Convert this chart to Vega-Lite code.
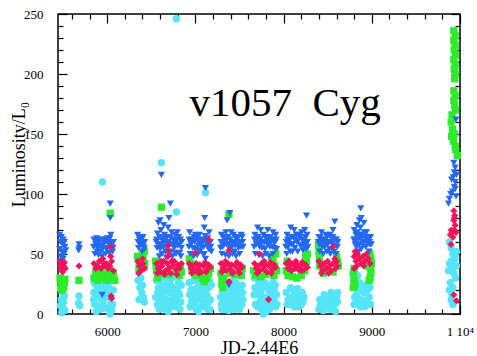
{
"$schema":"https://vega.github.io/schema/vega-lite/v6.json",
"width":402,"height":300,"autosize":"none",
"padding":{"left":58,"top":14,"right":17,"bottom":42},
"config":{"view":{"stroke":"black","strokeWidth":1.5},
"axis":{"domain":false,"grid":false,"tickColor":"black","tickWidth":1.2,"labelFont":"Liberation Serif","labelFontSize":13,"labelColor":"black","titleFont":"Liberation Serif","titleFontWeight":"normal","titleColor":"black"}},
"datasets":{
"lab":[{"jd":6932,"lum":165,"label":"v1057\u00a0\u00a0Cyg"}],
"pts":[
{"s":"c","jd":5470,"lum":21},{"s":"c","jd":5495,"lum":18},{"s":"c","jd":5515,"lum":15},{"s":"c","jd":5480,"lum":12},{"s":"c","jd":5505,"lum":10},{"s":"c","jd":5470,"lum":7},{"s":"c","jd":5500,"lum":5},{"s":"c","jd":5520,"lum":3},{"s":"c","jd":5485,"lum":1},
{"s":"c","jd":5680,"lum":15},{"s":"c","jd":5675,"lum":9},{"s":"c","jd":5688,"lum":7},
{"s":"c","jd":5850,"lum":18},{"s":"c","jd":5870,"lum":14},{"s":"c","jd":5890,"lum":20},{"s":"c","jd":5910,"lum":16},{"s":"c","jd":5930,"lum":12},{"s":"c","jd":5860,"lum":8},{"s":"c","jd":5900,"lum":6},{"s":"c","jd":5950,"lum":10},{"s":"c","jd":5970,"lum":22},{"s":"c","jd":5990,"lum":28},{"s":"c","jd":6000,"lum":34},{"s":"c","jd":6020,"lum":18},{"s":"c","jd":6040,"lum":14},{"s":"c","jd":6060,"lum":8},{"s":"c","jd":6050,"lum":3},{"s":"c","jd":6030,"lum":0},{"s":"c","jd":5980,"lum":5},{"s":"c","jd":6010,"lum":24},{"s":"c","jd":6070,"lum":20},{"s":"c","jd":5940,"lum":26},{"s":"c","jd":5880,"lum":24},{"s":"c","jd":5945,"lum":110},{"s":"c","jd":5855,"lum":26},{"s":"c","jd":5925,"lum":4},{"s":"c","jd":6065,"lum":28},{"s":"c","jd":5965,"lum":16},{"s":"c","jd":5845,"lum":12},{"s":"c","jd":5875,"lum":2},{"s":"c","jd":5915,"lum":22},{"s":"c","jd":5955,"lum":20},{"s":"c","jd":5995,"lum":14},{"s":"c","jd":6035,"lum":8},
{"s":"c","jd":6350,"lum":28},{"s":"c","jd":6370,"lum":22},{"s":"c","jd":6390,"lum":18},{"s":"c","jd":6410,"lum":14},{"s":"c","jd":6360,"lum":12},{"s":"c","jd":6400,"lum":24},{"s":"c","jd":6420,"lum":10},{"s":"c","jd":6380,"lum":30},
{"s":"c","jd":6560,"lum":28},{"s":"c","jd":6580,"lum":22},{"s":"c","jd":6600,"lum":16},{"s":"c","jd":6620,"lum":10},{"s":"c","jd":6640,"lum":6},{"s":"c","jd":6660,"lum":4},{"s":"c","jd":6680,"lum":12},{"s":"c","jd":6700,"lum":18},{"s":"c","jd":6720,"lum":24},{"s":"c","jd":6740,"lum":30},{"s":"c","jd":6760,"lum":20},{"s":"c","jd":6780,"lum":14},{"s":"c","jd":6800,"lum":8},{"s":"c","jd":6820,"lum":16},{"s":"c","jd":6840,"lum":24},{"s":"c","jd":6570,"lum":8},{"s":"c","jd":6590,"lum":4},{"s":"c","jd":6610,"lum":24},{"s":"c","jd":6650,"lum":20},{"s":"c","jd":6690,"lum":26},{"s":"c","jd":6730,"lum":10},{"s":"c","jd":6770,"lum":6},{"s":"c","jd":6810,"lum":26},{"s":"c","jd":6550,"lum":14},{"s":"c","jd":6630,"lum":30},{"s":"c","jd":6575,"lum":18},{"s":"c","jd":6625,"lum":16},{"s":"c","jd":6665,"lum":22},{"s":"c","jd":6710,"lum":6},{"s":"c","jd":6750,"lum":14},{"s":"c","jd":6795,"lum":20},{"s":"c","jd":6835,"lum":10},{"s":"c","jd":6690,"lum":2},{"s":"c","jd":6585,"lum":12},{"s":"c","jd":6635,"lum":24},{"s":"c","jd":6675,"lum":6},{"s":"c","jd":6705,"lum":28},{"s":"c","jd":6745,"lum":22},{"s":"c","jd":6765,"lum":12},{"s":"c","jd":6805,"lum":18},{"s":"c","jd":6825,"lum":4},{"s":"c","jd":6614,"lum":126},{"s":"c","jd":6784,"lum":85},{"s":"c","jd":6784,"lum":246},
{"s":"c","jd":6930,"lum":26},{"s":"c","jd":6950,"lum":20},{"s":"c","jd":6970,"lum":14},{"s":"c","jd":6990,"lum":8},{"s":"c","jd":7010,"lum":4},{"s":"c","jd":7030,"lum":12},{"s":"c","jd":7050,"lum":18},{"s":"c","jd":7070,"lum":24},{"s":"c","jd":7090,"lum":10},{"s":"c","jd":7110,"lum":6},{"s":"c","jd":7130,"lum":16},{"s":"c","jd":7150,"lum":22},{"s":"c","jd":7170,"lum":12},{"s":"c","jd":6940,"lum":6},{"s":"c","jd":6980,"lum":28},{"s":"c","jd":7020,"lum":22},{"s":"c","jd":7060,"lum":6},{"s":"c","jd":7100,"lum":28},{"s":"c","jd":7140,"lum":4},{"s":"c","jd":7180,"lum":24},{"s":"c","jd":6990,"lum":32},{"s":"c","jd":7050,"lum":33},{"s":"c","jd":6935,"lum":16},{"s":"c","jd":6975,"lum":20},{"s":"c","jd":7015,"lum":16},{"s":"c","jd":7075,"lum":14},{"s":"c","jd":7125,"lum":24},{"s":"c","jd":7165,"lum":4},{"s":"c","jd":7035,"lum":2},{"s":"c","jd":6955,"lum":10},{"s":"c","jd":6995,"lum":18},{"s":"c","jd":7045,"lum":26},{"s":"c","jd":7085,"lum":18},{"s":"c","jd":7115,"lum":20},{"s":"c","jd":7145,"lum":10},{"s":"c","jd":7160,"lum":28},{"s":"c","jd":7114,"lum":101},
{"s":"c","jd":7290,"lum":24},{"s":"c","jd":7310,"lum":18},{"s":"c","jd":7330,"lum":12},{"s":"c","jd":7350,"lum":6},{"s":"c","jd":7370,"lum":10},{"s":"c","jd":7390,"lum":16},{"s":"c","jd":7410,"lum":22},{"s":"c","jd":7430,"lum":28},{"s":"c","jd":7450,"lum":20},{"s":"c","jd":7470,"lum":14},{"s":"c","jd":7490,"lum":8},{"s":"c","jd":7510,"lum":18},{"s":"c","jd":7530,"lum":24},{"s":"c","jd":7300,"lum":4},{"s":"c","jd":7340,"lum":26},{"s":"c","jd":7380,"lum":3},{"s":"c","jd":7420,"lum":6},{"s":"c","jd":7460,"lum":26},{"s":"c","jd":7500,"lum":4},{"s":"c","jd":7540,"lum":12},{"s":"c","jd":7490,"lum":33},{"s":"c","jd":7285,"lum":14},{"s":"c","jd":7325,"lum":20},{"s":"c","jd":7365,"lum":22},{"s":"c","jd":7405,"lum":12},{"s":"c","jd":7445,"lum":4},{"s":"c","jd":7485,"lum":22},{"s":"c","jd":7525,"lum":8},{"s":"c","jd":7295,"lum":8},{"s":"c","jd":7335,"lum":4},{"s":"c","jd":7355,"lum":16},{"s":"c","jd":7425,"lum":16},{"s":"c","jd":7465,"lum":8},{"s":"c","jd":7505,"lum":12},{"s":"c","jd":7535,"lum":18},
{"s":"c","jd":7670,"lum":30},{"s":"c","jd":7690,"lum":22},{"s":"c","jd":7710,"lum":16},{"s":"c","jd":7730,"lum":10},{"s":"c","jd":7750,"lum":4},{"s":"c","jd":7770,"lum":0},{"s":"c","jd":7790,"lum":8},{"s":"c","jd":7810,"lum":14},{"s":"c","jd":7830,"lum":20},{"s":"c","jd":7850,"lum":24},{"s":"c","jd":7870,"lum":18},{"s":"c","jd":7890,"lum":12},{"s":"c","jd":7910,"lum":6},{"s":"c","jd":7680,"lum":8},{"s":"c","jd":7720,"lum":26},{"s":"c","jd":7760,"lum":22},{"s":"c","jd":7800,"lum":2},{"s":"c","jd":7840,"lum":4},{"s":"c","jd":7880,"lum":26},{"s":"c","jd":7920,"lum":16},{"s":"c","jd":7665,"lum":16},{"s":"c","jd":7705,"lum":6},{"s":"c","jd":7745,"lum":16},{"s":"c","jd":7785,"lum":26},{"s":"c","jd":7825,"lum":8},{"s":"c","jd":7865,"lum":10},{"s":"c","jd":7905,"lum":24},{"s":"c","jd":7675,"lum":22},{"s":"c","jd":7735,"lum":20},{"s":"c","jd":7775,"lum":12},{"s":"c","jd":7815,"lum":22},{"s":"c","jd":7855,"lum":14},{"s":"c","jd":7895,"lum":20},{"s":"c","jd":7925,"lum":8},
{"s":"c","jd":8030,"lum":18},{"s":"c","jd":8050,"lum":12},{"s":"c","jd":8070,"lum":8},{"s":"c","jd":8090,"lum":14},{"s":"c","jd":8110,"lum":20},{"s":"c","jd":8130,"lum":16},{"s":"c","jd":8150,"lum":10},{"s":"c","jd":8170,"lum":6},{"s":"c","jd":8190,"lum":12},{"s":"c","jd":8210,"lum":18},{"s":"c","jd":8230,"lum":14},{"s":"c","jd":8080,"lum":22},{"s":"c","jd":8160,"lum":21},{"s":"c","jd":8120,"lum":6},{"s":"c","jd":8200,"lum":8},{"s":"c","jd":8040,"lum":8},{"s":"c","jd":8100,"lum":10},{"s":"c","jd":8140,"lum":18},{"s":"c","jd":8180,"lum":14},{"s":"c","jd":8220,"lum":10},
{"s":"c","jd":8400,"lum":4},{"s":"c","jd":8420,"lum":8},{"s":"c","jd":8440,"lum":12},{"s":"c","jd":8460,"lum":16},{"s":"c","jd":8480,"lum":10},{"s":"c","jd":8500,"lum":6},{"s":"c","jd":8520,"lum":14},{"s":"c","jd":8540,"lum":18},{"s":"c","jd":8560,"lum":12},{"s":"c","jd":8580,"lum":8},{"s":"c","jd":8600,"lum":14},{"s":"c","jd":8615,"lum":18},{"s":"c","jd":8450,"lum":3},{"s":"c","jd":8530,"lum":4},{"s":"c","jd":8590,"lum":2},{"s":"c","jd":8410,"lum":12},{"s":"c","jd":8470,"lum":6},{"s":"c","jd":8510,"lum":10},{"s":"c","jd":8550,"lum":8},{"s":"c","jd":8610,"lum":10},
{"s":"c","jd":8790,"lum":28},{"s":"c","jd":8810,"lum":22},{"s":"c","jd":8830,"lum":16},{"s":"c","jd":8850,"lum":10},{"s":"c","jd":8870,"lum":6},{"s":"c","jd":8890,"lum":12},{"s":"c","jd":8910,"lum":18},{"s":"c","jd":8930,"lum":24},{"s":"c","jd":8950,"lum":20},{"s":"c","jd":8970,"lum":14},{"s":"c","jd":8985,"lum":8},{"s":"c","jd":8800,"lum":8},{"s":"c","jd":8860,"lum":26},{"s":"c","jd":8920,"lum":6},{"s":"c","jd":8980,"lum":22},{"s":"c","jd":8840,"lum":32},{"s":"c","jd":8805,"lum":14},{"s":"c","jd":8845,"lum":20},{"s":"c","jd":8885,"lum":24},{"s":"c","jd":8905,"lum":10},{"s":"c","jd":8945,"lum":12},{"s":"c","jd":8965,"lum":26},
{"s":"c","jd":9880,"lum":60},{"s":"c","jd":9900,"lum":55},{"s":"c","jd":9920,"lum":50},{"s":"c","jd":9940,"lum":46},{"s":"c","jd":9880,"lum":42},{"s":"c","jd":9910,"lum":38},{"s":"c","jd":9930,"lum":34},{"s":"c","jd":9950,"lum":30},{"s":"c","jd":9890,"lum":26},{"s":"c","jd":9920,"lum":22},{"s":"c","jd":9940,"lum":48},{"s":"c","jd":9900,"lum":44},{"s":"c","jd":9960,"lum":40},{"s":"c","jd":9880,"lum":20},{"s":"c","jd":9900,"lum":12},{"s":"c","jd":9920,"lum":8},{"s":"c","jd":9910,"lum":16},{"s":"c","jd":9870,"lum":36},{"s":"c","jd":9960,"lum":52},
{"s":"g","jd":5465,"lum":30},{"s":"g","jd":5490,"lum":28},{"s":"g","jd":5515,"lum":26},{"s":"g","jd":5475,"lum":24},{"s":"g","jd":5505,"lum":22},{"s":"g","jd":5485,"lum":20},{"s":"g","jd":5520,"lum":29},
{"s":"g","jd":5680,"lum":28},
{"s":"g","jd":5850,"lum":30},{"s":"g","jd":5870,"lum":34},{"s":"g","jd":5890,"lum":28},{"s":"g","jd":5910,"lum":36},{"s":"g","jd":5930,"lum":32},{"s":"g","jd":5950,"lum":30},{"s":"g","jd":5970,"lum":34},{"s":"g","jd":5990,"lum":28},{"s":"g","jd":6010,"lum":32},{"s":"g","jd":6030,"lum":36},{"s":"g","jd":6050,"lum":30},{"s":"g","jd":6070,"lum":34},{"s":"g","jd":6085,"lum":28},{"s":"g","jd":6034,"lum":84},{"s":"g","jd":5880,"lum":37},
{"s":"g","jd":6345,"lum":48},{"s":"g","jd":6365,"lum":44},{"s":"g","jd":6385,"lum":40},{"s":"g","jd":6405,"lum":46},{"s":"g","jd":6425,"lum":42},{"s":"g","jd":6360,"lum":38},{"s":"g","jd":6400,"lum":50},{"s":"g","jd":6420,"lum":52},
{"s":"g","jd":6550,"lum":44},{"s":"g","jd":6560,"lum":36},{"s":"g","jd":6570,"lum":30},{"s":"g","jd":6555,"lum":40},{"s":"g","jd":6830,"lum":40},{"s":"g","jd":6840,"lum":35},{"s":"g","jd":6820,"lum":32},{"s":"g","jd":6600,"lum":34},{"s":"g","jd":6700,"lum":33},{"s":"g","jd":6780,"lum":35},{"s":"g","jd":6614,"lum":89},
{"s":"g","jd":6930,"lum":46},{"s":"g","jd":6950,"lum":42},{"s":"g","jd":7010,"lum":32},{"s":"g","jd":7080,"lum":30},{"s":"g","jd":7100,"lum":27},{"s":"g","jd":7130,"lum":30},{"s":"g","jd":7150,"lum":34},{"s":"g","jd":7170,"lum":38},{"s":"g","jd":7050,"lum":34},{"s":"g","jd":6960,"lum":36},
{"s":"g","jd":7290,"lum":34},{"s":"g","jd":7300,"lum":28},{"s":"g","jd":7310,"lum":22},{"s":"g","jd":7320,"lum":30},{"s":"g","jd":7500,"lum":36},{"s":"g","jd":7520,"lum":32},{"s":"g","jd":7530,"lum":38},{"s":"g","jd":7400,"lum":34},{"s":"g","jd":7450,"lum":33},{"s":"g","jd":7380,"lum":83},
{"s":"g","jd":7660,"lum":36},{"s":"g","jd":7680,"lum":32},{"s":"g","jd":7860,"lum":48},{"s":"g","jd":7880,"lum":44},{"s":"g","jd":7900,"lum":40},{"s":"g","jd":7920,"lum":36},{"s":"g","jd":7890,"lum":32},{"s":"g","jd":7910,"lum":50},{"s":"g","jd":7800,"lum":33},{"s":"g","jd":7740,"lum":31},
{"s":"g","jd":8030,"lum":36},{"s":"g","jd":8050,"lum":32},{"s":"g","jd":8100,"lum":31},{"s":"g","jd":8150,"lum":30},{"s":"g","jd":8200,"lum":32},{"s":"g","jd":8240,"lum":36},{"s":"g","jd":8260,"lum":44},{"s":"g","jd":8270,"lum":50},{"s":"g","jd":8250,"lum":48},{"s":"g","jd":8040,"lum":44},
{"s":"g","jd":8395,"lum":58},{"s":"g","jd":8400,"lum":52},{"s":"g","jd":8405,"lum":46},{"s":"g","jd":8410,"lum":40},{"s":"g","jd":8600,"lum":48},{"s":"g","jd":8610,"lum":44},{"s":"g","jd":8620,"lum":40},{"s":"g","jd":8500,"lum":36},{"s":"g","jd":8560,"lum":35},{"s":"g","jd":8450,"lum":34},
{"s":"g","jd":8980,"lum":50},{"s":"g","jd":8990,"lum":46},{"s":"g","jd":8995,"lum":42},{"s":"g","jd":8985,"lum":38},{"s":"g","jd":8990,"lum":34},{"s":"g","jd":8980,"lum":30},{"s":"g","jd":8970,"lum":28},{"s":"g","jd":8800,"lum":38},{"s":"g","jd":8790,"lum":34},{"s":"g","jd":8800,"lum":28},{"s":"g","jd":8790,"lum":22},{"s":"g","jd":8810,"lum":24},{"s":"g","jd":8960,"lum":40},
{"s":"g","jd":9930,"lum":236},{"s":"g","jd":9945,"lum":232},{"s":"g","jd":9930,"lum":228},{"s":"g","jd":9945,"lum":224},{"s":"g","jd":9935,"lum":220},{"s":"g","jd":9950,"lum":216},{"s":"g","jd":9930,"lum":212},{"s":"g","jd":9945,"lum":208},{"s":"g","jd":9935,"lum":204},{"s":"g","jd":9950,"lum":200},{"s":"g","jd":9940,"lum":196},{"s":"g","jd":9930,"lum":186},{"s":"g","jd":9945,"lum":182},{"s":"g","jd":9930,"lum":178},{"s":"g","jd":9940,"lum":174},{"s":"g","jd":9950,"lum":170},{"s":"g","jd":9910,"lum":166},{"s":"g","jd":9900,"lum":160},{"s":"g","jd":9915,"lum":154},{"s":"g","jd":9935,"lum":150},{"s":"g","jd":9905,"lum":148},{"s":"g","jd":9925,"lum":144},{"s":"g","jd":9945,"lum":140},{"s":"g","jd":9950,"lum":137},{"s":"g","jd":9970,"lum":132},
{"s":"b","jd":5460,"lum":66},{"s":"b","jd":5480,"lum":64},{"s":"b","jd":5500,"lum":62},{"s":"b","jd":5470,"lum":60},{"s":"b","jd":5495,"lum":58},{"s":"b","jd":5520,"lum":56},{"s":"b","jd":5460,"lum":54},{"s":"b","jd":5485,"lum":52},{"s":"b","jd":5510,"lum":50},{"s":"b","jd":5475,"lum":48},{"s":"b","jd":5500,"lum":46},{"s":"b","jd":5465,"lum":44},{"s":"b","jd":5490,"lum":42},{"s":"b","jd":5515,"lum":60},{"s":"b","jd":5530,"lum":53},
{"s":"b","jd":5680,"lum":58},{"s":"b","jd":5684,"lum":55},{"s":"b","jd":5676,"lum":53},
{"s":"b","jd":5850,"lum":62},{"s":"b","jd":5870,"lum":58},{"s":"b","jd":5890,"lum":55},{"s":"b","jd":5910,"lum":60},{"s":"b","jd":5930,"lum":52},{"s":"b","jd":5950,"lum":57},{"s":"b","jd":5970,"lum":62},{"s":"b","jd":5990,"lum":54},{"s":"b","jd":6010,"lum":59},{"s":"b","jd":6030,"lum":63},{"s":"b","jd":6050,"lum":56},{"s":"b","jd":6070,"lum":60},{"s":"b","jd":5860,"lum":50},{"s":"b","jd":5900,"lum":49},{"s":"b","jd":5940,"lum":48},{"s":"b","jd":5980,"lum":50},{"s":"b","jd":6020,"lum":51},{"s":"b","jd":6060,"lum":52},{"s":"b","jd":5845,"lum":56},{"s":"b","jd":5865,"lum":61},{"s":"b","jd":5885,"lum":52},{"s":"b","jd":5905,"lum":57},{"s":"b","jd":5925,"lum":62},{"s":"b","jd":5945,"lum":54},{"s":"b","jd":5965,"lum":59},{"s":"b","jd":5985,"lum":61},{"s":"b","jd":6005,"lum":55},{"s":"b","jd":6025,"lum":57},{"s":"b","jd":6045,"lum":60},{"s":"b","jd":6065,"lum":55},{"s":"b","jd":6034,"lum":92},{"s":"b","jd":6034,"lum":80},{"s":"b","jd":6040,"lum":66},{"s":"b","jd":5943,"lum":16},{"s":"b","jd":5880,"lum":63},{"s":"b","jd":6000,"lum":63},
{"s":"b","jd":6345,"lum":66},{"s":"b","jd":6365,"lum":62},{"s":"b","jd":6385,"lum":58},{"s":"b","jd":6405,"lum":64},{"s":"b","jd":6425,"lum":60},{"s":"b","jd":6355,"lum":55},{"s":"b","jd":6395,"lum":52},{"s":"b","jd":6415,"lum":56},{"s":"b","jd":6375,"lum":64},{"s":"b","jd":6350,"lum":60},{"s":"b","jd":6370,"lum":58},{"s":"b","jd":6390,"lum":62},{"s":"b","jd":6410,"lum":60},{"s":"b","jd":6420,"lum":54},
{"s":"b","jd":6560,"lum":62},{"s":"b","jd":6580,"lum":58},{"s":"b","jd":6600,"lum":54},{"s":"b","jd":6620,"lum":50},{"s":"b","jd":6640,"lum":56},{"s":"b","jd":6660,"lum":60},{"s":"b","jd":6680,"lum":64},{"s":"b","jd":6700,"lum":58},{"s":"b","jd":6720,"lum":52},{"s":"b","jd":6740,"lum":48},{"s":"b","jd":6760,"lum":55},{"s":"b","jd":6780,"lum":60},{"s":"b","jd":6800,"lum":57},{"s":"b","jd":6820,"lum":51},{"s":"b","jd":6840,"lum":55},{"s":"b","jd":6570,"lum":67},{"s":"b","jd":6610,"lum":70},{"s":"b","jd":6650,"lum":66},{"s":"b","jd":6690,"lum":72},{"s":"b","jd":6730,"lum":68},{"s":"b","jd":6770,"lum":66},{"s":"b","jd":6810,"lum":64},{"s":"b","jd":6590,"lum":48},{"s":"b","jd":6670,"lum":47},{"s":"b","jd":6750,"lum":62},{"s":"b","jd":6830,"lum":62},{"s":"b","jd":6600,"lum":78},{"s":"b","jd":6640,"lum":74},{"s":"b","jd":6700,"lum":80},{"s":"b","jd":6580,"lum":76},{"s":"b","jd":6565,"lum":55},{"s":"b","jd":6625,"lum":62},{"s":"b","jd":6675,"lum":56},{"s":"b","jd":6735,"lum":58},{"s":"b","jd":6795,"lum":68},{"s":"b","jd":6835,"lum":48},{"s":"b","jd":6555,"lum":60},{"s":"b","jd":6595,"lum":64},{"s":"b","jd":6635,"lum":60},{"s":"b","jd":6655,"lum":63},{"s":"b","jd":6695,"lum":60},{"s":"b","jd":6715,"lum":64},{"s":"b","jd":6755,"lum":58},{"s":"b","jd":6775,"lum":62},{"s":"b","jd":6815,"lum":58},{"s":"b","jd":6845,"lum":60},{"s":"b","jd":6605,"lum":58},{"s":"b","jd":6685,"lum":52},{"s":"b","jd":6765,"lum":51},{"s":"b","jd":6614,"lum":116},{"s":"b","jd":6716,"lum":92},{"s":"b","jd":6660,"lum":52},{"s":"b","jd":6780,"lum":50},
{"s":"b","jd":6930,"lum":62},{"s":"b","jd":6950,"lum":58},{"s":"b","jd":6970,"lum":55},{"s":"b","jd":6990,"lum":60},{"s":"b","jd":7010,"lum":64},{"s":"b","jd":7030,"lum":57},{"s":"b","jd":7050,"lum":52},{"s":"b","jd":7070,"lum":56},{"s":"b","jd":7090,"lum":61},{"s":"b","jd":7110,"lum":65},{"s":"b","jd":7130,"lum":58},{"s":"b","jd":7150,"lum":54},{"s":"b","jd":7170,"lum":60},{"s":"b","jd":6940,"lum":50},{"s":"b","jd":6980,"lum":48},{"s":"b","jd":7020,"lum":49},{"s":"b","jd":7060,"lum":60},{"s":"b","jd":7100,"lum":50},{"s":"b","jd":7140,"lum":63},{"s":"b","jd":7180,"lum":52},{"s":"b","jd":6935,"lum":68},{"s":"b","jd":6995,"lum":54},{"s":"b","jd":7045,"lum":66},{"s":"b","jd":7085,"lum":50},{"s":"b","jd":7155,"lum":68},{"s":"b","jd":6925,"lum":56},{"s":"b","jd":6965,"lum":62},{"s":"b","jd":6985,"lum":64},{"s":"b","jd":7025,"lum":62},{"s":"b","jd":7055,"lum":58},{"s":"b","jd":7075,"lum":62},{"s":"b","jd":7095,"lum":56},{"s":"b","jd":7125,"lum":62},{"s":"b","jd":7145,"lum":58},{"s":"b","jd":7175,"lum":56},{"s":"b","jd":6945,"lum":60},{"s":"b","jd":7035,"lum":53},{"s":"b","jd":7114,"lum":105},{"s":"b","jd":7105,"lum":80},{"s":"b","jd":7100,"lum":72},{"s":"b","jd":7115,"lum":46},{"s":"b","jd":7000,"lum":66},
{"s":"b","jd":7290,"lum":60},{"s":"b","jd":7310,"lum":56},{"s":"b","jd":7330,"lum":62},{"s":"b","jd":7350,"lum":58},{"s":"b","jd":7370,"lum":64},{"s":"b","jd":7390,"lum":54},{"s":"b","jd":7410,"lum":60},{"s":"b","jd":7430,"lum":66},{"s":"b","jd":7450,"lum":57},{"s":"b","jd":7470,"lum":62},{"s":"b","jd":7490,"lum":55},{"s":"b","jd":7510,"lum":60},{"s":"b","jd":7530,"lum":64},{"s":"b","jd":7300,"lum":50},{"s":"b","jd":7340,"lum":49},{"s":"b","jd":7380,"lum":48},{"s":"b","jd":7420,"lum":50},{"s":"b","jd":7460,"lum":48},{"s":"b","jd":7500,"lum":50},{"s":"b","jd":7540,"lum":56},{"s":"b","jd":7295,"lum":66},{"s":"b","jd":7345,"lum":68},{"s":"b","jd":7405,"lum":68},{"s":"b","jd":7445,"lum":52},{"s":"b","jd":7485,"lum":64},{"s":"b","jd":7285,"lum":55},{"s":"b","jd":7325,"lum":58},{"s":"b","jd":7355,"lum":62},{"s":"b","jd":7375,"lum":58},{"s":"b","jd":7395,"lum":62},{"s":"b","jd":7415,"lum":56},{"s":"b","jd":7435,"lum":60},{"s":"b","jd":7455,"lum":64},{"s":"b","jd":7475,"lum":58},{"s":"b","jd":7515,"lum":56},{"s":"b","jd":7535,"lum":60},{"s":"b","jd":7315,"lum":64},{"s":"b","jd":7390,"lum":84},{"s":"b","jd":7360,"lum":78},{"s":"b","jd":7520,"lum":66},{"s":"b","jd":7380,"lum":24},
{"s":"b","jd":7670,"lum":62},{"s":"b","jd":7690,"lum":58},{"s":"b","jd":7710,"lum":64},{"s":"b","jd":7730,"lum":56},{"s":"b","jd":7750,"lum":60},{"s":"b","jd":7770,"lum":66},{"s":"b","jd":7790,"lum":54},{"s":"b","jd":7810,"lum":62},{"s":"b","jd":7830,"lum":58},{"s":"b","jd":7850,"lum":64},{"s":"b","jd":7870,"lum":56},{"s":"b","jd":7890,"lum":60},{"s":"b","jd":7910,"lum":66},{"s":"b","jd":7680,"lum":50},{"s":"b","jd":7720,"lum":49},{"s":"b","jd":7760,"lum":48},{"s":"b","jd":7800,"lum":50},{"s":"b","jd":7840,"lum":48},{"s":"b","jd":7880,"lum":50},{"s":"b","jd":7920,"lum":54},{"s":"b","jd":7665,"lum":56},{"s":"b","jd":7725,"lum":62},{"s":"b","jd":7785,"lum":60},{"s":"b","jd":7845,"lum":56},{"s":"b","jd":7905,"lum":60},{"s":"b","jd":7675,"lum":66},{"s":"b","jd":7695,"lum":62},{"s":"b","jd":7715,"lum":58},{"s":"b","jd":7735,"lum":62},{"s":"b","jd":7755,"lum":55},{"s":"b","jd":7775,"lum":60},{"s":"b","jd":7795,"lum":64},{"s":"b","jd":7815,"lum":58},{"s":"b","jd":7835,"lum":64},{"s":"b","jd":7855,"lum":60},{"s":"b","jd":7875,"lum":62},{"s":"b","jd":7895,"lum":55},{"s":"b","jd":7915,"lum":62},{"s":"b","jd":7705,"lum":72},{"s":"b","jd":7880,"lum":68},{"s":"b","jd":7740,"lum":70},{"s":"b","jd":7820,"lum":70},
{"s":"b","jd":8030,"lum":60},{"s":"b","jd":8050,"lum":56},{"s":"b","jd":8070,"lum":62},{"s":"b","jd":8090,"lum":58},{"s":"b","jd":8110,"lum":64},{"s":"b","jd":8130,"lum":55},{"s":"b","jd":8150,"lum":60},{"s":"b","jd":8170,"lum":66},{"s":"b","jd":8190,"lum":57},{"s":"b","jd":8210,"lum":62},{"s":"b","jd":8230,"lum":58},{"s":"b","jd":8250,"lum":64},{"s":"b","jd":8270,"lum":60},{"s":"b","jd":8040,"lum":66},{"s":"b","jd":8100,"lum":52},{"s":"b","jd":8160,"lum":52},{"s":"b","jd":8220,"lum":53},{"s":"b","jd":8260,"lum":54},{"s":"b","jd":8035,"lum":50},{"s":"b","jd":8075,"lum":52},{"s":"b","jd":8145,"lum":66},{"s":"b","jd":8205,"lum":68},{"s":"b","jd":8265,"lum":66},{"s":"b","jd":8025,"lum":56},{"s":"b","jd":8045,"lum":62},{"s":"b","jd":8065,"lum":58},{"s":"b","jd":8085,"lum":64},{"s":"b","jd":8105,"lum":58},{"s":"b","jd":8125,"lum":62},{"s":"b","jd":8165,"lum":61},{"s":"b","jd":8185,"lum":64},{"s":"b","jd":8215,"lum":57},{"s":"b","jd":8235,"lum":62},{"s":"b","jd":8255,"lum":58},{"s":"b","jd":8275,"lum":56},{"s":"b","jd":8080,"lum":72},{"s":"b","jd":8120,"lum":70},{"s":"b","jd":8240,"lum":70},{"s":"b","jd":8260,"lum":82},
{"s":"b","jd":8400,"lum":64},{"s":"b","jd":8420,"lum":60},{"s":"b","jd":8440,"lum":56},{"s":"b","jd":8460,"lum":62},{"s":"b","jd":8480,"lum":66},{"s":"b","jd":8500,"lum":58},{"s":"b","jd":8520,"lum":54},{"s":"b","jd":8540,"lum":60},{"s":"b","jd":8560,"lum":64},{"s":"b","jd":8580,"lum":57},{"s":"b","jd":8600,"lum":62},{"s":"b","jd":8410,"lum":52},{"s":"b","jd":8450,"lum":50},{"s":"b","jd":8490,"lum":52},{"s":"b","jd":8530,"lum":50},{"s":"b","jd":8570,"lum":52},{"s":"b","jd":8610,"lum":56},{"s":"b","jd":8405,"lum":58},{"s":"b","jd":8465,"lum":56},{"s":"b","jd":8525,"lum":66},{"s":"b","jd":8595,"lum":50},{"s":"b","jd":8395,"lum":60},{"s":"b","jd":8415,"lum":64},{"s":"b","jd":8435,"lum":62},{"s":"b","jd":8455,"lum":58},{"s":"b","jd":8475,"lum":60},{"s":"b","jd":8495,"lum":64},{"s":"b","jd":8515,"lum":60},{"s":"b","jd":8535,"lum":64},{"s":"b","jd":8555,"lum":58},{"s":"b","jd":8575,"lum":62},{"s":"b","jd":8615,"lum":60},{"s":"b","jd":8430,"lum":68},{"s":"b","jd":8560,"lum":70},{"s":"b","jd":8580,"lum":77},
{"s":"b","jd":8800,"lum":70},{"s":"b","jd":8820,"lum":66},{"s":"b","jd":8840,"lum":62},{"s":"b","jd":8860,"lum":58},{"s":"b","jd":8880,"lum":54},{"s":"b","jd":8900,"lum":60},{"s":"b","jd":8920,"lum":64},{"s":"b","jd":8940,"lum":68},{"s":"b","jd":8960,"lum":62},{"s":"b","jd":8980,"lum":58},{"s":"b","jd":8810,"lum":58},{"s":"b","jd":8850,"lum":52},{"s":"b","jd":8890,"lum":66},{"s":"b","jd":8930,"lum":56},{"s":"b","jd":8970,"lum":52},{"s":"b","jd":8825,"lum":56},{"s":"b","jd":8865,"lum":64},{"s":"b","jd":8945,"lum":60},{"s":"b","jd":8985,"lum":64},{"s":"b","jd":8795,"lum":62},{"s":"b","jd":8815,"lum":62},{"s":"b","jd":8835,"lum":68},{"s":"b","jd":8855,"lum":66},{"s":"b","jd":8875,"lum":62},{"s":"b","jd":8895,"lum":58},{"s":"b","jd":8915,"lum":68},{"s":"b","jd":8935,"lum":64},{"s":"b","jd":8955,"lum":58},{"s":"b","jd":8975,"lum":60},{"s":"b","jd":8995,"lum":58},{"s":"b","jd":8830,"lum":74},{"s":"b","jd":8870,"lum":72},{"s":"b","jd":8910,"lum":76},{"s":"b","jd":8880,"lum":80},{"s":"b","jd":8860,"lum":78},{"s":"b","jd":8875,"lum":88},
{"s":"b","jd":9930,"lum":126},{"s":"b","jd":9945,"lum":122},{"s":"b","jd":9935,"lum":118},{"s":"b","jd":9925,"lum":114},{"s":"b","jd":9945,"lum":110},{"s":"b","jd":9935,"lum":106},{"s":"b","jd":9915,"lum":102},{"s":"b","jd":9895,"lum":100},{"s":"b","jd":9880,"lum":96},{"s":"b","jd":9870,"lum":92},{"s":"b","jd":9905,"lum":112},{"s":"b","jd":9955,"lum":98},{"s":"b","jd":9960,"lum":116},{"s":"b","jd":9945,"lum":104},{"s":"b","jd":9954,"lum":162},
{"s":"r","jd":5465,"lum":44},{"s":"r","jd":5485,"lum":42},{"s":"r","jd":5505,"lum":40},{"s":"r","jd":5525,"lum":38},{"s":"r","jd":5475,"lum":37},{"s":"r","jd":5495,"lum":35},{"s":"r","jd":5515,"lum":43},{"s":"r","jd":5470,"lum":40},
{"s":"r","jd":5680,"lum":40},
{"s":"r","jd":5850,"lum":42},{"s":"r","jd":5870,"lum":38},{"s":"r","jd":5890,"lum":40},{"s":"r","jd":5910,"lum":44},{"s":"r","jd":5930,"lum":38},{"s":"r","jd":5950,"lum":46},{"s":"r","jd":5970,"lum":40},{"s":"r","jd":5990,"lum":42},{"s":"r","jd":6010,"lum":38},{"s":"r","jd":6030,"lum":40},{"s":"r","jd":6050,"lum":44},{"s":"r","jd":6070,"lum":36},{"s":"r","jd":5960,"lum":42},{"s":"r","jd":6040,"lum":56},{"s":"r","jd":6040,"lum":48},{"s":"r","jd":6045,"lum":15},{"s":"r","jd":6050,"lum":13},
{"s":"r","jd":6345,"lum":44},{"s":"r","jd":6365,"lum":40},{"s":"r","jd":6385,"lum":36},{"s":"r","jd":6405,"lum":42},{"s":"r","jd":6425,"lum":38},{"s":"r","jd":6355,"lum":34},{"s":"r","jd":6400,"lum":46},
{"s":"r","jd":6560,"lum":42},{"s":"r","jd":6580,"lum":38},{"s":"r","jd":6600,"lum":35},{"s":"r","jd":6620,"lum":40},{"s":"r","jd":6640,"lum":44},{"s":"r","jd":6660,"lum":36},{"s":"r","jd":6680,"lum":42},{"s":"r","jd":6700,"lum":38},{"s":"r","jd":6720,"lum":34},{"s":"r","jd":6740,"lum":40},{"s":"r","jd":6760,"lum":44},{"s":"r","jd":6780,"lum":37},{"s":"r","jd":6800,"lum":41},{"s":"r","jd":6820,"lum":38},{"s":"r","jd":6840,"lum":42},{"s":"r","jd":6570,"lum":34},{"s":"r","jd":6610,"lum":44},{"s":"r","jd":6650,"lum":33},{"s":"r","jd":6730,"lum":44},{"s":"r","jd":6790,"lum":33},{"s":"r","jd":6690,"lum":48},{"s":"r","jd":6695,"lum":52},{"s":"r","jd":6690,"lum":57},
{"s":"r","jd":6930,"lum":42},{"s":"r","jd":6950,"lum":38},{"s":"r","jd":6970,"lum":40},{"s":"r","jd":6990,"lum":36},{"s":"r","jd":7010,"lum":42},{"s":"r","jd":7030,"lum":38},{"s":"r","jd":7050,"lum":41},{"s":"r","jd":7070,"lum":35},{"s":"r","jd":7090,"lum":40},{"s":"r","jd":7110,"lum":43},{"s":"r","jd":7130,"lum":37},{"s":"r","jd":7150,"lum":41},{"s":"r","jd":7170,"lum":39},{"s":"r","jd":6960,"lum":34},{"s":"r","jd":7040,"lum":34},{"s":"r","jd":7120,"lum":35},{"s":"r","jd":7000,"lum":51},{"s":"r","jd":7150,"lum":62},
{"s":"r","jd":7290,"lum":42},{"s":"r","jd":7310,"lum":38},{"s":"r","jd":7330,"lum":40},{"s":"r","jd":7350,"lum":36},{"s":"r","jd":7370,"lum":42},{"s":"r","jd":7390,"lum":38},{"s":"r","jd":7410,"lum":41},{"s":"r","jd":7430,"lum":35},{"s":"r","jd":7450,"lum":40},{"s":"r","jd":7470,"lum":43},{"s":"r","jd":7490,"lum":37},{"s":"r","jd":7510,"lum":41},{"s":"r","jd":7530,"lum":39},{"s":"r","jd":7300,"lum":35},{"s":"r","jd":7340,"lum":44},{"s":"r","jd":7420,"lum":34},{"s":"r","jd":7500,"lum":34},{"s":"r","jd":7380,"lum":53},{"s":"r","jd":7380,"lum":27},
{"s":"r","jd":7670,"lum":42},{"s":"r","jd":7690,"lum":38},{"s":"r","jd":7710,"lum":40},{"s":"r","jd":7730,"lum":36},{"s":"r","jd":7750,"lum":42},{"s":"r","jd":7770,"lum":38},{"s":"r","jd":7790,"lum":41},{"s":"r","jd":7810,"lum":35},{"s":"r","jd":7830,"lum":40},{"s":"r","jd":7850,"lum":43},{"s":"r","jd":7870,"lum":37},{"s":"r","jd":7890,"lum":41},{"s":"r","jd":7910,"lum":39},{"s":"r","jd":7700,"lum":34},{"s":"r","jd":7780,"lum":44},{"s":"r","jd":7860,"lum":34},{"s":"r","jd":7727,"lum":50},{"s":"r","jd":7830,"lum":12},
{"s":"r","jd":8030,"lum":42},{"s":"r","jd":8050,"lum":38},{"s":"r","jd":8070,"lum":40},{"s":"r","jd":8090,"lum":36},{"s":"r","jd":8110,"lum":42},{"s":"r","jd":8130,"lum":38},{"s":"r","jd":8150,"lum":41},{"s":"r","jd":8170,"lum":37},{"s":"r","jd":8190,"lum":40},{"s":"r","jd":8210,"lum":43},{"s":"r","jd":8230,"lum":37},{"s":"r","jd":8250,"lum":41},{"s":"r","jd":8270,"lum":39},{"s":"r","jd":8060,"lum":44},{"s":"r","jd":8140,"lum":44},{"s":"r","jd":8200,"lum":36},
{"s":"r","jd":8400,"lum":44},{"s":"r","jd":8420,"lum":40},{"s":"r","jd":8440,"lum":36},{"s":"r","jd":8460,"lum":42},{"s":"r","jd":8480,"lum":38},{"s":"r","jd":8500,"lum":44},{"s":"r","jd":8520,"lum":40},{"s":"r","jd":8540,"lum":36},{"s":"r","jd":8560,"lum":42},{"s":"r","jd":8580,"lum":46},{"s":"r","jd":8600,"lum":44},{"s":"r","jd":8610,"lum":40},{"s":"r","jd":8430,"lum":34},{"s":"r","jd":8510,"lum":34},{"s":"r","jd":8590,"lum":38},{"s":"r","jd":8557,"lum":56},
{"s":"r","jd":8800,"lum":48},{"s":"r","jd":8820,"lum":44},{"s":"r","jd":8840,"lum":50},{"s":"r","jd":8860,"lum":46},{"s":"r","jd":8880,"lum":42},{"s":"r","jd":8900,"lum":48},{"s":"r","jd":8920,"lum":44},{"s":"r","jd":8940,"lum":50},{"s":"r","jd":8960,"lum":46},{"s":"r","jd":8980,"lum":42},{"s":"r","jd":8830,"lum":40},{"s":"r","jd":8910,"lum":40},{"s":"r","jd":8810,"lum":52},{"s":"r","jd":8800,"lum":38},
{"s":"r","jd":9930,"lum":86},{"s":"r","jd":9940,"lum":82},{"s":"r","jd":9935,"lum":80},{"s":"r","jd":9930,"lum":78},{"s":"r","jd":9945,"lum":74},{"s":"r","jd":9935,"lum":70},{"s":"r","jd":9910,"lum":68},{"s":"r","jd":9890,"lum":66},{"s":"r","jd":9920,"lum":64},{"s":"r","jd":9955,"lum":68},{"s":"r","jd":9900,"lum":70},{"s":"r","jd":9898,"lum":58},{"s":"r","jd":9930,"lum":16},{"s":"r","jd":9960,"lum":11}
]},
"layer":[
{"data":{"name":"pts"},
"mark":{"type":"point","filled":true,"opacity":1,"strokeWidth":0},
"encoding":{
"x":{"field":"jd","type":"quantitative","scale":{"domain":[5442,10000],"nice":false,"zero":false},
"axis":{"orient":"bottom","values":[6000,7000,8000,9000,10000],"tickSize":-9,"labelPadding":20,"labelFlush":false,"labelExpr":"datum.value == 10000 ? '1 10⁴' : format(datum.value, 'd')","title":"JD-2.44E6","titleFontSize":18,"titlePadding":1}},
"y":{"field":"lum","type":"quantitative","scale":{"domain":[0,250],"nice":false},
"axis":{"orient":"left","values":[0,50,100,150,200,250],"tickSize":-9,"labelPadding":24,"title":"Luminosity/L₀","titleFontSize":18,"titlePadding":-5,"titleY":140}},
"shape":{"field":"s","type":"nominal","scale":{"domain":["c","g","b","r"],"range":["circle","square","triangle-down","diamond"]},"legend":null},
"color":{"field":"s","type":"nominal","scale":{"domain":["c","g","b","r"],"range":["#55e4f8","#2cec2c","#2468f2","#f0145a"]},"legend":null},
"size":{"field":"s","type":"nominal","scale":{"domain":["c","g","b","r"],"range":[55,50,70,60]},"legend":null}
}},
{"data":{"name":"lab"},
"mark":{"type":"text","font":"Liberation Serif","fontSize":41,"align":"left","baseline":"alphabetic","color":"black"},
"encoding":{
"x":{"field":"jd","type":"quantitative","axis":{"orient":"bottom","values":[5600,5800,6200,6400,6600,6800,7200,7400,7600,7800,8200,8400,8600,8800,9200,9400,9600,9800],"tickSize":-5,"labels":false,"title":null}},
"y":{"field":"lum","type":"quantitative","axis":{"orient":"left","values":[10,20,30,40,60,70,80,90,110,120,130,140,160,170,180,190,210,220,230,240],"tickSize":-5,"labels":false,"title":null}},
"text":{"field":"label"}}},
{"data":{"name":"lab"},
"mark":{"type":"text","opacity":0},
"encoding":{
"x":{"field":"jd","type":"quantitative","axis":{"orient":"top","values":[6000,7000,8000,9000,10000],"tickSize":-9,"labels":false,"title":null}},
"y":{"field":"lum","type":"quantitative","axis":{"orient":"right","values":[0,50,100,150,200,250],"tickSize":-9,"labels":false,"title":null}},
"text":{"field":"label"}}},
{"data":{"name":"lab"},
"mark":{"type":"text","opacity":0},
"encoding":{
"x":{"field":"jd","type":"quantitative","axis":{"orient":"top","values":[5600,5800,6200,6400,6600,6800,7200,7400,7600,7800,8200,8400,8600,8800,9200,9400,9600,9800],"tickSize":-5,"labels":false,"title":null}},
"y":{"field":"lum","type":"quantitative","axis":{"orient":"right","values":[10,20,30,40,60,70,80,90,110,120,130,140,160,170,180,190,210,220,230,240],"tickSize":-5,"labels":false,"title":null}},
"text":{"field":"label"}}}
],
"resolve":{"axis":{"x":"independent","y":"independent"}}
}
